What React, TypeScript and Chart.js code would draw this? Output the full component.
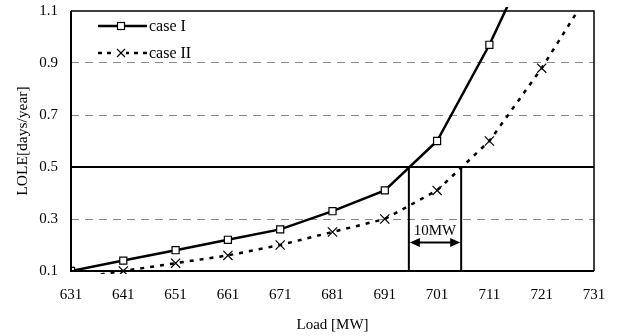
import React, { useEffect, useRef } from "react";
import { Chart, registerables } from "chart.js";

Chart.register(...registerables);

// Load levels [MW] and LOLE [days/year] for the two cases
const loads = [631, 641, 651, 661, 671, 681, 691, 701, 711, 721, 731];
const caseI = [0.1, 0.14, 0.18, 0.22, 0.26, 0.33, 0.41, 0.6, 0.97, 1.4, null];
const caseII = [0.07, 0.1, 0.13, 0.16, 0.2, 0.25, 0.3, 0.41, 0.6, 0.88, 1.2];

const xTicks = [631, 641, 651, 661, 671, 681, 691, 701, 711, 721, 731];
const yTicks = [0.1, 0.3, 0.5, 0.7, 0.9, 1.1];
const dashedLevels = [0.3, 0.7, 0.9];

// Reliability target and the loads where each case reaches it
const targetLole = 0.5;
const crossingI = 695.6;
const crossingII = 705.6;
const arrowLevel = 0.21;
const arrowLabel = "10MW";

const SERIF = "'Liberation Serif', 'Times New Roman', serif";

const framePlugin = {
  id: "frame",
  afterDatasetsDraw(chart: any) {
    const { ctx, chartArea: a } = chart;
    ctx.save();
    ctx.strokeStyle = "#000";
    ctx.lineWidth = 2;
    ctx.beginPath();
    ctx.moveTo(a.left, a.top);
    ctx.lineTo(a.left, a.bottom);
    ctx.lineTo(a.right, a.bottom);
    ctx.stroke();
    ctx.lineWidth = 1.5;
    ctx.beginPath();
    ctx.moveTo(a.left, a.top);
    ctx.lineTo(a.right, a.top);
    ctx.lineTo(a.right, a.bottom);
    ctx.stroke();
    ctx.restore();
  },
};

const arrowPlugin = {
  id: "gapArrow",
  afterDatasetsDraw(chart: any) {
    const { ctx } = chart;
    const xs = chart.scales.x;
    const ys = chart.scales.y;
    const x1 = xs.getPixelForValue(crossingI) + 1;
    const x2 = xs.getPixelForValue(crossingII) - 1;
    const y = ys.getPixelForValue(arrowLevel);
    const head = 10;
    const half = 4.5;
    ctx.save();
    ctx.strokeStyle = "#000";
    ctx.fillStyle = "#000";
    ctx.lineWidth = 2;
    ctx.beginPath();
    ctx.moveTo(x1 + head - 1, y);
    ctx.lineTo(x2 - head + 1, y);
    ctx.stroke();
    ctx.beginPath();
    ctx.moveTo(x1, y);
    ctx.lineTo(x1 + head, y - half);
    ctx.lineTo(x1 + head, y + half);
    ctx.closePath();
    ctx.fill();
    ctx.beginPath();
    ctx.moveTo(x2, y);
    ctx.lineTo(x2 - head, y - half);
    ctx.lineTo(x2 - head, y + half);
    ctx.closePath();
    ctx.fill();
    ctx.font = `15px ${SERIF}`;
    ctx.textAlign = "center";
    ctx.textBaseline = "alphabetic";
    ctx.fillText(arrowLabel, (x1 + x2) / 2, y - 7);
    ctx.restore();
  },
};

const legendPlugin = {
  id: "insetLegend",
  afterDraw(chart: any) {
    const { ctx } = chart;
    const x0 = 98;
    const x1 = 147;
    const mid = 121;
    const rows = [
      { y: 26, label: "case I", dash: [] as number[], marker: "rect" },
      { y: 53, label: "case II", dash: [4, 5], marker: "cross" },
    ];
    ctx.save();
    for (const r of rows) {
      ctx.strokeStyle = "#000";
      ctx.lineWidth = 2.5;
      ctx.setLineDash(r.dash);
      ctx.beginPath();
      ctx.moveTo(x0, r.y);
      ctx.lineTo(x1, r.y);
      ctx.stroke();
      ctx.setLineDash([]);
      ctx.lineWidth = 1.2;
      if (r.marker === "rect") {
        ctx.fillStyle = "#fff";
        ctx.fillRect(mid - 3.5, r.y - 3.5, 7, 7);
        ctx.strokeRect(mid - 3.5, r.y - 3.5, 7, 7);
      } else {
        ctx.fillStyle = "#fff";
        ctx.fillRect(mid - 5, r.y - 4, 10, 8);
        ctx.beginPath();
        ctx.moveTo(mid - 4, r.y - 4);
        ctx.lineTo(mid + 4, r.y + 4);
        ctx.moveTo(mid + 4, r.y - 4);
        ctx.lineTo(mid - 4, r.y + 4);
        ctx.stroke();
      }
      ctx.fillStyle = "#000";
      ctx.font = `16px ${SERIF}`;
      ctx.textAlign = "left";
      ctx.textBaseline = "middle";
      ctx.fillText(r.label, 149, r.y + 1);
    }
    ctx.restore();
  },
};

export default function App() {
  const canvasRef = useRef<HTMLCanvasElement | null>(null);

  useEffect(() => {
    const canvas = canvasRef.current;
    if (!canvas) return;

    const pts = (ys: (number | null)[]) =>
      loads.map((x, i) => ({ x, y: ys[i] }));

    const chart = new Chart(canvas, {
      type: "line",
      data: {
        datasets: [
          {
            label: "case I",
            data: pts(caseI) as any,
            borderColor: "#000",
            borderWidth: 2.5,
            pointStyle: "rect",
            pointRadius: 5,
            pointBorderWidth: 1.2,
            pointBorderColor: "#000",
            pointBackgroundColor: "#fff",
            clip: { left: 0, top: 4, right: 0, bottom: 0 } as any,
          },
          {
            label: "case II",
            data: pts(caseII) as any,
            borderColor: "#000",
            borderWidth: 2.5,
            borderDash: [4, 6],
            pointStyle: "crossRot",
            pointRadius: loads.map((_, i) => (i === 0 ? 0 : 6.5)),
            pointBorderWidth: 1.2,
            pointBorderColor: "#000",
            clip: { left: 0, top: 0, right: 0, bottom: 3 } as any,
          },
          {
            label: "target",
            data: [
              { x: xTicks[0], y: targetLole },
              { x: xTicks[xTicks.length - 1], y: targetLole },
            ],
            borderColor: "#000",
            borderWidth: 2,
            pointRadius: 0,
          },
          {
            label: "crossing I",
            data: [
              { x: crossingI, y: yTicks[0] },
              { x: crossingI, y: targetLole },
            ],
            borderColor: "#000",
            borderWidth: 2,
            pointRadius: 0,
          },
          {
            label: "crossing II",
            data: [
              { x: crossingII, y: yTicks[0] },
              { x: crossingII, y: targetLole },
            ],
            borderColor: "#000",
            borderWidth: 2,
            pointRadius: 0,
          },
        ],
      },
      options: {
        animation: false,
        responsive: false,
        layout: { padding: 0 },
        plugins: {
          legend: { display: false },
          tooltip: { enabled: false },
        },
        scales: {
          x: {
            type: "linear",
            min: xTicks[0],
            max: xTicks[xTicks.length - 1],
            afterBuildTicks: (s: any) => {
              s.ticks = xTicks.map((v) => ({ value: v }));
            },
            afterFit: (s: any) => {
              s.height = 65;
              s.paddingLeft = 0;
              s.paddingRight = 23;
            },
            grid: { display: false, drawTicks: false },
            border: { display: false },
            ticks: {
              color: "#000",
              padding: 15,
              maxRotation: 0,
              autoSkip: false,
              font: { family: SERIF, size: 15 },
              callback: (v: any) => String(v),
            },
            title: {
              display: true,
              text: "Load [MW]",
              color: "#000",
              font: { family: SERIF, size: 15 },
              padding: { top: 0, bottom: 2 },
            },
          },
          y: {
            type: "linear",
            min: yTicks[0],
            max: yTicks[yTicks.length - 1],
            afterBuildTicks: (s: any) => {
              s.ticks = yTicks.map((v) => ({ value: v }));
            },
            afterFit: (s: any) => {
              s.width = 71;
              s.paddingTop = 11;
              s.paddingBottom = 0;
            },
            grid: {
              drawTicks: false,
              lineWidth: 1,
              color: (c: any) =>
                c.tick && dashedLevels.some((v) => Math.abs(v - c.tick.value) < 1e-6)
                  ? "#8c8c8c"
                  : "rgba(0,0,0,0)",
            },
            border: { display: false, dash: [8, 6] },
            ticks: {
              color: "#000",
              padding: 13,
              autoSkip: false,
              font: { family: SERIF, size: 15 },
              callback: (v: any) => Number(v).toFixed(1),
            },
            title: {
              display: true,
              text: "LOLE[days/year]",
              color: "#000",
              font: { family: SERIF, size: 15.5 },
              padding: { top: 14, bottom: 0 },
            },
          },
        },
      },
      plugins: [framePlugin, arrowPlugin, legendPlugin],
    });

    return () => chart.destroy();
  }, []);

  return (
    <div style={{ position: "absolute", left: 0, top: 0, width: 617, height: 336, background: "#fff" }}>
      <canvas ref={canvasRef} width={617} height={336} style={{ display: "block" }} />
    </div>
  );
}
